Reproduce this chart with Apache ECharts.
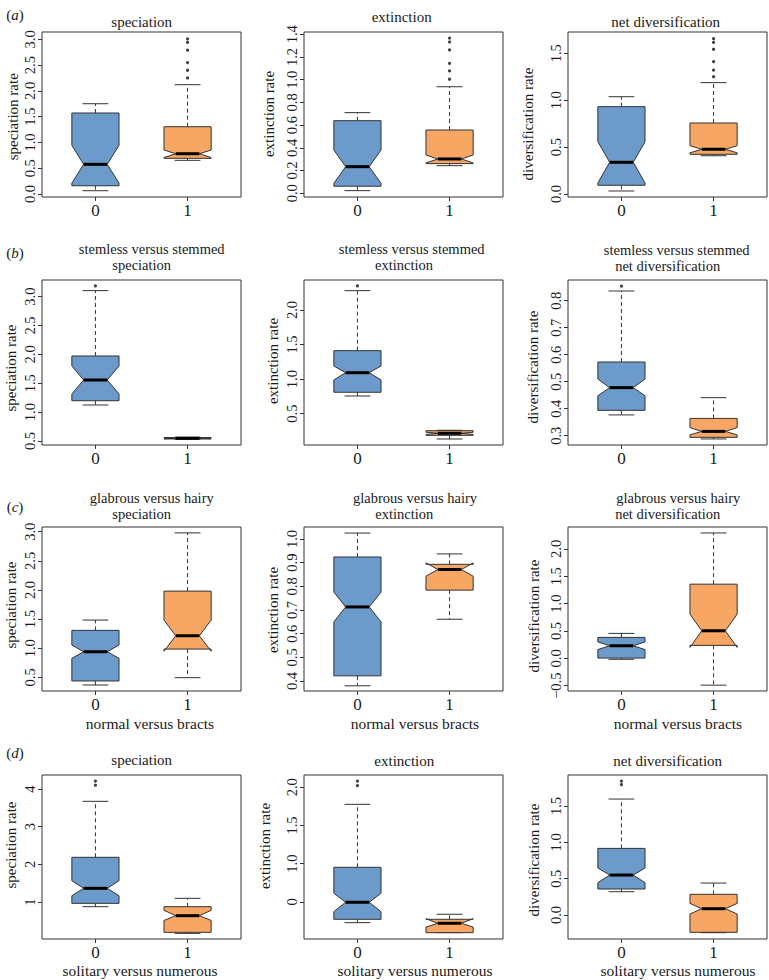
<!DOCTYPE html>
<html><head><meta charset="utf-8">
<script src="https://cdn.jsdelivr.net/npm/echarts@6/dist/echarts.min.js"></script>
<style>html,body{margin:0;padding:0;background:#fff}#c{width:769px;height:980px}</style>
</head><body><div id="c"></div>
<script>
// ---------- DATA ----------
// groups on the x axis
const groupLabels = ['0', '1'];
const groupPos = [1, 2];
// box stats per group: [lower whisker, Q1, notch low, median, notch high, Q3, upper whisker]
const specA = [[0.064, 0.16, 0.21, 0.576, 0.944, 1.571, 1.751], [0.653, 0.692, 0.707, 0.781, 0.853, 1.305, 2.12]];
const specAOut = [[], [3.01, 2.94, 2.79, 2.55, 2.40, 2.25]];
const extA = [[0.023, 0.062, 0.087, 0.234, 0.381, 0.639, 0.71], [0.243, 0.261, 0.267, 0.302, 0.337, 0.557, 0.938]];
const extAOut = [[], [1.367, 1.332, 1.262, 1.144, 1.077, 1.004]];
const divA = [[0.032, 0.093, 0.118, 0.338, 0.558, 0.931, 1.037], [0.408, 0.423, 0.439, 0.477, 0.515, 0.757, 1.187]];
const divAOut = [[], [1.656, 1.617, 1.543, 1.41, 1.32, 1.25]];

const specB = [[1.124, 1.198, 1.314, 1.557, 1.80, 1.973, 3.105], [0.53, 0.535, 0.54, 0.548, 0.556, 0.56, 0.565]];
const specBOut = [[3.186], []];
const extB = [[0.756, 0.81, 0.988, 1.093, 1.19, 1.412, 2.28], [0.134, 0.187, 0.20, 0.216, 0.232, 0.254, 0.26]];
const extBOut = [[2.348], []];
const divB = [[0.377, 0.394, 0.448, 0.478, 0.51, 0.573, 0.836], [0.288, 0.294, 0.303, 0.316, 0.33, 0.364, 0.441]];
const divBOut = [[0.854], []];

const specC = [[0.368, 0.437, 0.826, 0.939, 1.054, 1.306, 1.483], [0.494, 0.985, 0.948, 1.214, 1.483, 1.98, 2.98]];
const specCOut = [[], []];
const extC = [[0.38, 0.422, 0.65, 0.713, 0.776, 0.924, 1.025], [0.661, 0.784, 0.843, 0.871, 0.899, 0.893, 0.937]];
const extCOut = [[], []];
const divC = [[-0.018, 0.005, 0.16, 0.23, 0.30, 0.383, 0.456], [-0.49, 0.237, 0.20, 0.504, 0.808, 1.356, 2.292]];
const divCOut = [[], []];

const specD = [[0.876, 0.965, 1.167, 1.363, 1.566, 2.187, 3.673], [0.168, 0.195, 0.51, 0.637, 0.78, 0.876, 1.098]];
const specDOut = [[4.21, 4.10], []];
const extD = [[0.228, 0.272, 0.372, 0.495, 0.613, 0.953, 1.777], [0.097, 0.097, 0.17, 0.22, 0.28, 0.272, 0.338]];
const extDOut = [[2.082, 2.021], []];
const divD = [[0.321, 0.358, 0.445, 0.55, 0.647, 0.917, 1.596], [-0.243, -0.238, 0.014, 0.087, 0.16, 0.285, 0.44]];
const divDOut = [[1.844, 1.793], []];

// y tick values and their labels
const ticksSpecA = [0, 0.5, 1, 1.5, 2, 2.5, 3];       const labSpecA = ['0.0','0.5','1.0','1.5','2.0','2.5','3.0'];
const ticksExtA = [0, 0.2, 0.4, 0.6, 0.8, 1.0, 1.2, 1.4]; const labExtA = ['0.0','0.2','0.4','0.6','0.8','1.0','1.2','1.4'];
const ticksDivA = [0, 0.5, 1, 1.5];                   const labDivA = ['0.0','0.5','1.0','1.5'];
const ticksSpecB = [0.5, 1, 1.5, 2, 2.5, 3];          const labSpecB = ['0.5','1.0','1.5','2.0','2.5','3.0'];
const ticksExtB = [0.5, 1, 1.5, 2];                   const labExtB = ['0.5','1.0','1.5','2.0'];
const ticksDivB = [0.3, 0.4, 0.5, 0.6, 0.7, 0.8];     const labDivB = ['0.3','0.4','0.5','0.6','0.7','0.8'];
const ticksSpecC = [0.5, 1, 1.5, 2, 2.5, 3];          const labSpecC = ['0.5','1.0','1.5','2.0','2.5','3.0'];
const ticksExtC = [0.4, 0.5, 0.6, 0.7, 0.8, 0.9, 1.0]; const labExtC = ['0.4','0.5','0.6','0.7','0.8','0.9','1.0'];
const ticksDivC = [-0.5, 0, 0.5, 1, 1.5, 2];          const labDivC = ['\u22120.5','0.0','0.5','1.0','1.5','2.0'];
const ticksSpecD = [1, 2, 3, 4];                      const labSpecD = ['1','2','3','4'];
const ticksExtD = [0.5, 1, 1.5, 2];                   const labExtD = ['0','1.0','1.5','2.0'];
const ticksDivD = [0, 0.5, 1, 1.5];                   const labDivD = ['0.0','0.5','1.0','1.5'];

// ---------- LAYOUT / STYLE ----------
const FONT = "'Liberation Serif', 'Times New Roman', Times, 'DejaVu Serif', serif";
const BOX_COLORS = ['#6c9bcb', '#f7a663'];
const W = 0.256, STAPLE = 0.14, NFRAC = 0.5;
const colLeft = [42, 304, 568], colW = [199, 199, 199];
const rowTop = [32, 280, 527, 775], rowH = [165, 165, 164, 164];

const panels = [
  {r:0,c:0,stats:specA,out:specAOut,ticks:ticksSpecA,lab:labSpecA,ymin:-0.058,ymax:3.142,yName:'speciation rate',nx:12.5,ny:116.7},
  {r:0,c:1,stats:extA,out:extAOut,ticks:ticksExtA,lab:labExtA,ymin:-0.033,ymax:1.42,yName:'extinction rate',nx:269,ny:114},
  {r:0,c:2,stats:divA,out:divAOut,ticks:ticksDivA,lab:labDivA,ymin:-0.032,ymax:1.727,yName:'diversification rate',nx:527.5,ny:124},
  {r:1,c:0,stats:specB,out:specBOut,ticks:ticksSpecB,lab:labSpecB,ymin:0.431,ymax:3.289,yName:'speciation rate',nx:10.5,ny:368},
  {r:1,c:1,stats:extB,out:extBOut,ticks:ticksExtB,lab:labExtB,ymin:0.047,ymax:2.434,yName:'extinction rate',nx:273,ny:361},
  {r:1,c:2,stats:divB,out:divBOut,ticks:ticksDivB,lab:labDivB,ymin:0.2656,ymax:0.8767,yName:'diversification rate',nx:533,ny:367},
  {r:2,c:0,stats:specC,out:specCOut,ticks:ticksSpecC,lab:labSpecC,ymin:0.265,ymax:3.081,yName:'speciation rate',nx:11,ny:605},
  {r:2,c:1,stats:extC,out:extCOut,ticks:ticksExtC,lab:labExtC,ymin:0.358,ymax:1.0506,yName:'extinction rate',nx:272.5,ny:610},
  {r:2,c:2,stats:divC,out:divCOut,ticks:ticksDivC,lab:labDivC,ymin:-0.597,ymax:2.401,yName:'diversification rate',nx:534,ny:616},
  {r:3,c:0,stats:specD,out:specDOut,ticks:ticksSpecD,lab:labSpecD,ymin:0.018,ymax:4.372,yName:'speciation rate',nx:11,ny:845},
  {r:3,c:1,stats:extD,out:extDOut,ticks:ticksExtD,lab:labExtD,ymin:0.014,ymax:2.161,yName:'extinction rate',nx:265,ny:846},
  {r:3,c:2,stats:divD,out:divDOut,ticks:ticksDivD,lab:labDivD,ymin:-0.33,ymax:1.927,yName:'diversification rate',nx:534,ny:860}
];

// [line1, line2, x of line1 centre, x of line2 centre, y of block middle, line height]
const titles = [
  ['speciation', null, 141.7, 0, 21.7, 15],
  ['extinction', null, 401.7, 0, 16.7, 15],
  ['net diversification', null, 665.7, 0, 21.7, 15],
  ['stemless versus stemmed', 'speciation', 151.7, 141.7, 257, 16],
  ['stemless versus stemmed', 'extinction', 411.7, 404, 257, 16],
  ['stemless versus stemmed', 'net diversification', 676.7, 667.7, 257.5, 16],
  ['glabrous versus hairy', 'speciation', 151.7, 141.7, 505.5, 16],
  ['glabrous versus hairy', 'extinction', 415, 404.3, 505.5, 16],
  ['glabrous versus hairy', 'net diversification', 678.3, 667.7, 505.5, 16],
  ['speciation', null, 141.7, 0, 760, 15],
  ['extinction', null, 404.3, 0, 761, 15],
  ['net diversification', null, 667.7, 0, 761, 15]
];
const xNames = [
  ['normal versus bracts',150,723],['normal versus bracts',415,723],['normal versus bracts',678,723],
  ['solitary versus numerous',140,970],['solitary versus numerous',415,970],['solitary versus numerous',678,970]
];
const letters = [['a',15,14.5],['b',15,253],['c',15,506.5],['d',15,753]];

function renderBox(params, api) {
  const x = api.value(0);
  const lw = api.value(1), q1 = api.value(2), nlo = api.value(3), med = api.value(4),
        nhi = api.value(5), q3 = api.value(6), hw = api.value(7);
  const P = (dx, y) => api.coord([x + dx, y]);
  const N = W * NFRAC;
  const fill = BOX_COLORS[params.dataIndex];
  const dash = {stroke:'#333', lineWidth:1, lineDash:[4,3], fill:null};
  const solid = {stroke:'#333', lineWidth:1, fill:null};
  const line = (a, b, style) => ({type:'line', shape:{x1:a[0],y1:a[1],x2:b[0],y2:b[1]}, style});
  return {type:'group', children:[
    line(P(0,q3), P(0,hw), dash),
    line(P(0,q1), P(0,lw), dash),
    line(P(-STAPLE,hw), P(STAPLE,hw), solid),
    line(P(-STAPLE,lw), P(STAPLE,lw), solid),
    {type:'polygon', shape:{points:[P(-W,q1),P(-W,nlo),P(-N,med),P(-W,nhi),P(-W,q3),P(W,q3),P(W,nhi),P(N,med),P(W,nlo),P(W,q1)]},
     style:{fill, stroke:'#333', lineWidth:1}},
    line(P(-N,med), P(N,med), {stroke:'#000', lineWidth:3, fill:null})
  ]};
}

const grid = [], xAxis = [], yAxis = [], series = [], graphic = [];
const TXT = '#1a1a1a';
const txt = (size, extra) => Object.assign({fontFamily: FONT, fontSize: size, fill: TXT}, extra || {});
panels.forEach((p, i) => {
  grid.push({left: colLeft[p.c], top: rowTop[p.r], width: colW[p.c], height: rowH[p.r],
    show: true, borderColor: '#333', borderWidth: 1, backgroundColor: 'transparent'});
  xAxis.push({type:'value', gridIndex:i, min:0.42, max:2.58,
    axisLine:{show:false, onZero:false}, splitLine:{show:false},
    axisTick:{show:true, customValues: groupPos, length:4, lineStyle:{color:'#333'}},
    axisLabel:{show:true, customValues: groupPos, margin:5, fontSize:17, fontFamily:FONT, color:TXT,
      formatter: v => groupLabels[groupPos.indexOf(Math.round(v))]}});
  yAxis.push({type:'value', gridIndex:i, min:p.ymin, max:p.ymax,
    axisLine:{show:false, onZero:false}, splitLine:{show:false},
    axisTick:{show:true, customValues: p.ticks, length:4, lineStyle:{color:'#333'}},
    axisLabel:{show:true, customValues: p.ticks, rotate:90, margin:5, fontSize:14.5, fontFamily:FONT, color:TXT,
      formatter: v => { const k = p.ticks.findIndex(t => Math.abs(t - v) < 1e-9); return k >= 0 ? p.lab[k] : ''; }}});
  series.push({type:'custom', xAxisIndex:i, yAxisIndex:i, renderItem: renderBox,
    encode:{x:0, y:[1,2,3,4,5,6,7]}, clip:false,
    data: p.stats.map((s, g) => [groupPos[g]].concat(s))});
  const outData = [];
  p.out.forEach((arr, g) => arr.forEach(v => outData.push([groupPos[g], v])));
  series.push({type:'scatter', xAxisIndex:i, yAxisIndex:i, symbol:'circle', symbolSize:3.2,
    itemStyle:{color:'#111'}, data: outData, silent:true});
  graphic.push({type:'text', x:p.nx, y:p.ny, rotation:Math.PI/2,
    style: txt(15, {text:p.yName, textAlign:'center', textVerticalAlign:'middle'})});
});
titles.forEach(t => {
  if (!t[1]) {
    graphic.push({type:'text', x:t[2], y:t[4],
      style: txt(15, {text:t[0], textAlign:'center', textVerticalAlign:'middle'})});
  } else {
    const shift = 2 * (t[2] - t[3]);
    graphic.push({type:'text', x:t[2], y:t[4],
      style:{text:'{l1|' + t[0] + '}\n{l2|' + t[1] + '}', textAlign:'center', textVerticalAlign:'middle',
        rich:{l1:{fontFamily:FONT, fontSize:14.5, fill:TXT, lineHeight:t[5]},
              l2:{fontFamily:FONT, fontSize:14.5, fill:TXT, lineHeight:t[5], padding:[0, shift, 0, 0]}}}});
  }
});
xNames.forEach(t => graphic.push({type:'text', x:t[1], y:t[2],
  style: txt(15.5, {text:t[0], textAlign:'center', textVerticalAlign:'middle'})}));
letters.forEach(t => graphic.push({type:'text', x:t[1], y:t[2],
  style:{text:'{p|(}{i|' + t[0] + '}{p|)}', textAlign:'center', textVerticalAlign:'middle',
    rich:{p:{fontFamily:FONT, fontSize:15, fill:TXT}, i:{fontFamily:FONT, fontSize:15, fontStyle:'italic', fill:TXT}}}}));

const chart = echarts.init(document.getElementById('c'), null, {renderer:'svg'});
chart.setOption({animation:false, backgroundColor:'#fff', grid, xAxis, yAxis, series, graphic});
</script></body></html>
